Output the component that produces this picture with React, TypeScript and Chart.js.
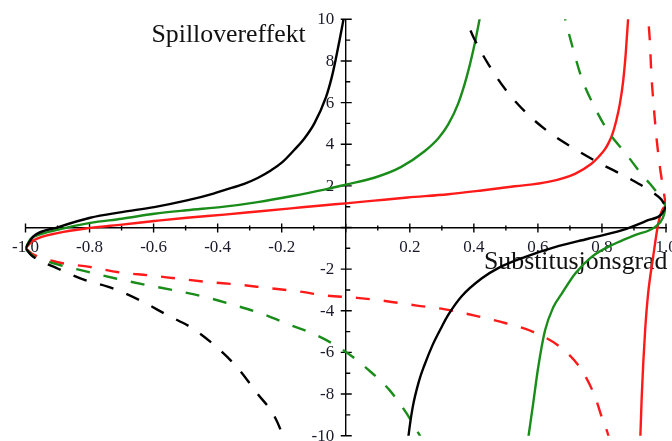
import { useEffect, useRef } from "react";
import { Chart, registerables } from "chart.js";

Chart.register(...registerables);

// x: substitution degree, y: spillover effect
const bsAx = [-1, -0.985, -0.975, -0.897, -0.798, -0.699, -0.598, -0.496, -0.413, -0.379, -0.317, -0.275, -0.234, -0.197, -0.161, -0.128, -0.098, -0.062, -0.044, -0.031, -0.02, -0.01, -0.003, 0.003];
const bsAy = [-1.0, -0.62, -0.42, 0.02, 0.47, 0.74, 0.98, 1.3, 1.63, 1.8, 2.1, 2.38, 2.74, 3.15, 3.72, 4.3, 5.0, 6.25, 7.2, 8.1, 8.95, 9.75, 10.35, 11];
const bsBx = [0.192, 0.196, 0.209, 0.229, 0.245, 0.271, 0.297, 0.32, 0.362, 0.424, 0.476, 0.559, 0.653, 0.757, 0.861, 0.944, 0.985, 1.0];
const bsBy = [-10.6, -10.0, -8.64, -7.36, -6.64, -5.65, -4.85, -4.2, -3.3, -2.45, -1.95, -1.42, -0.94, -0.54, -0.14, 0.35, 0.62, 1.0];

const bdAx = [-1, -0.985, -0.975, -0.904, -0.818, -0.724, -0.641, -0.558, -0.477, -0.405, -0.34, -0.275, -0.225, -0.197, -0.19];
const bdAy = [-1.0, -1.28, -1.42, -1.94, -2.5, -2.94, -3.51, -4.2, -4.86, -5.72, -6.7, -8.0, -9.0, -10.0, -10.4];
const bdBx = [0.355, 0.372, 0.4, 0.447, 0.5, 0.562, 0.635, 0.717, 0.795, 0.877, 0.961, 0.985, 1.0];
const bdBy = [10.7, 10.1, 9.1, 7.8, 6.6, 5.53, 4.57, 3.75, 3.07, 2.42, 1.66, 1.35, 1.0];

const gsAx = [-1, -0.985, -0.97, -0.897, -0.798, -0.699, -0.598, -0.496, -0.379, -0.275, -0.171, -0.067, 0, 0.089, 0.172, 0.245, 0.29, 0.32, 0.351, 0.377, 0.398, 0.419, 0.428];
const gsAy = [-1.0, -0.56, -0.42, -0.1, 0.22, 0.42, 0.66, 0.83, 1.0, 1.22, 1.5, 1.82, 2.06, 2.39, 2.9, 3.65, 4.3, 4.95, 5.95, 7.2, 8.5, 10.1, 10.9];
const gsBx = [0.562, 0.57, 0.585, 0.601, 0.622, 0.648, 0.674, 0.716, 0.767, 0.84, 0.903, 0.965, 0.99, 1.0];
const gsBy = [-11, -10.1, -8.48, -6.71, -4.96, -3.83, -3.19, -2.22, -1.42, -0.78, -0.37, 0.02, 0.45, 1.0];

const gdAx = [-1, -0.985, -0.975, -0.898, -0.805, -0.715, -0.626, -0.532, -0.436, -0.35, -0.26, -0.176, -0.088, -0.005, 0.068, 0.136, 0.188, 0.227, 0.25];
const gdAy = [-1.0, -1.25, -1.38, -1.78, -2.13, -2.46, -2.75, -3.03, -3.35, -3.72, -4.15, -4.67, -5.2, -5.92, -6.8, -7.8, -8.88, -9.88, -10.5];
const gdBx = [0.676, 0.687, 0.71, 0.737, 0.775, 0.82, 0.877, 0.929, 0.95, 0.98, 1.0];
const gdBy = [10.6, 9.9, 8.56, 7.16, 5.84, 4.6, 3.5, 2.46, 2.1, 1.5, 1.0];

const rsAx = [-1, -0.985, -0.975, -0.897, -0.798, -0.699, -0.598, -0.496, -0.379, -0.275, -0.171, -0.067, 0, 0.089, 0.193, 0.32, 0.424, 0.528, 0.632, 0.716, 0.767, 0.79, 0.809, 0.822, 0.834, 0.845, 0.856, 0.866, 0.874, 0.882, 0.888];
const rsAy = [-1.0, -0.75, -0.62, -0.26, -0.02, 0.14, 0.31, 0.47, 0.62, 0.77, 0.92, 1.07, 1.16, 1.29, 1.44, 1.6, 1.78, 1.98, 2.19, 2.58, 3.06, 3.4, 3.75, 4.1, 4.55, 5.15, 5.95, 7.0, 8.3, 10.1, 11.6];
const rsBx = [0.917, 0.92, 0.924, 0.929, 0.935, 0.944, 0.96, 0.976, 0.99, 1.0];
const rsBy = [-11, -10, -8.2, -6.5, -4.9, -3.2, -1.4, 0.2, 0.9, 1.0];

const rdAx = [-1, -0.985, -0.975, -0.896, -0.8, -0.709, -0.612, -0.522, -0.428, -0.338, -0.246, -0.153, -0.06, 0.035, 0.128, 0.222, 0.306, 0.403, 0.5, 0.583, 0.668, 0.731, 0.775, 0.804, 0.82, 0.826];
const rdAy = [-1.0, -1.2, -1.3, -1.68, -1.89, -2.15, -2.3, -2.46, -2.62, -2.74, -2.9, -3.06, -3.27, -3.38, -3.54, -3.75, -3.92, -4.23, -4.6, -5.0, -5.72, -6.72, -8.0, -9.32, -10, -10.5];
const rdBx = [0.941, 0.945, 0.95, 0.954, 0.961, 0.97, 0.981, 0.992, 1.0];
const rdBy = [11, 9.95, 8.85, 7.45, 5.96, 4.36, 2.9, 1.8, 1.0];

const yAxisTitle = "Spillovereffekt";
const xAxisTitle = "Substitusjonsgrad";

const BLACK = "#000000";
const GREEN = "#1a8c1a";
const RED = "#ff1a1a";
const LABEL = "#1a1a2a";
const SERIF = "'Liberation Serif', 'Times New Roman', serif";

const zip = (xs: number[], ys: number[]) => xs.map((x, i) => ({ x, y: ys[i] }));

function series(xs: number[], ys: number[], color: string, dashed: boolean) {
  return {
    data: zip(xs, ys),
    showLine: true,
    borderColor: color,
    borderWidth: 2.4,
    borderDash: dashed ? [14, 14] : [],
    pointRadius: 0,
    pointHoverRadius: 0,
    cubicInterpolationMode: "monotone" as const,
    fill: false,
  };
}

const axesDecor = {
  id: "axesDecor",
  beforeDatasetsDraw(chart: any) {
    const { ctx } = chart;
    const xs = chart.scales.x;
    const ys = chart.scales.y;
    const x0 = xs.getPixelForValue(0);
    const y0 = ys.getPixelForValue(0);
    ctx.save();
    ctx.strokeStyle = "#000";
    ctx.lineWidth = 1.4;
    ctx.beginPath();
    xs.ticks.forEach((t: any) => {
      const p = xs.getPixelForValue(t.value);
      const major = Math.abs(Math.round(t.value * 10)) % 2 === 0;
      if (major) {
        ctx.moveTo(p, y0 - 4);
        ctx.lineTo(p, y0 + 5);
      } else {
        ctx.moveTo(p, y0 - 2);
        ctx.lineTo(p, y0 + 3);
      }
    });
    ys.ticks.forEach((t: any) => {
      const p = ys.getPixelForValue(t.value);
      const major = Math.abs(Math.round(t.value)) % 2 === 0;
      if (major) {
        ctx.moveTo(x0 - 5, p);
        ctx.lineTo(x0 + 6, p);
      } else {
        ctx.moveTo(x0, p);
        ctx.lineTo(x0 + 4.5, p);
      }
    });
    ctx.stroke();

    // y tick labels, right-aligned left of the vertical axis
    ctx.fillStyle = LABEL;
    ctx.font = `17px ${SERIF}`;
    ctx.textAlign = "right";
    ctx.textBaseline = "middle";
    ys.ticks.forEach((t: any) => {
      const n = Math.round(t.value);
      if (n === 0 || n % 2 !== 0) return;
      ctx.fillText(String(n), x0 - 11.5, ys.getPixelForValue(t.value) + 0.5);
    });

    ctx.fillStyle = "#111";
    ctx.font = `25.8px ${SERIF}`;
    ctx.textAlign = "left";
    ctx.textBaseline = "alphabetic";
    ctx.fillText(yAxisTitle, 151.5, 41.5);
    ctx.fillText(xAxisTitle, 484, 269);
    ctx.restore();
  },
};

const zeroPad = (s: any) => {
  s.paddingLeft = 0;
  s.paddingRight = 0;
  s.paddingTop = 0;
  s.paddingBottom = 0;
};

export default function App() {
  const ref = useRef<HTMLCanvasElement | null>(null);
  useEffect(() => {
    if (!ref.current) return;
    const chart = new Chart(ref.current, {
      type: "scatter",
      data: {
        datasets: [
          series(bsAx, bsAy, BLACK, false),
          series(bsBx, bsBy, BLACK, false),
          series(bdAx, bdAy, BLACK, true),
          series(bdBx, bdBy, BLACK, true),
          series(gsAx, gsAy, GREEN, false),
          series(gsBx, gsBy, GREEN, false),
          series(gdAx, gdAy, GREEN, true),
          series(gdBx, gdBy, GREEN, true),
          series(rsAx, rsAy, RED, false),
          series(rsBx, rsBy, RED, false),
          series(rdAx, rdAy, RED, true),
          series(rdBx, rdBy, RED, true),
        ] as any,
      },
      options: {
        animation: false,
        responsive: false,
        maintainAspectRatio: false,
        events: [],
        layout: { padding: { left: 25.5, right: 6, top: 19.3, bottom: 5.3 } },
        plugins: { legend: { display: false }, tooltip: { enabled: false }, title: { display: false } },
        scales: {
          x: {
            type: "linear",
            min: -1,
            max: 1,
            position: { y: 0 } as any,
            grid: { display: false, drawTicks: false },
            border: { display: true, color: "#000", width: 1.4 },
            afterFit: zeroPad,
            ticks: {
              stepSize: 0.1,
              autoSkip: false,
              maxRotation: 0,
              padding: 9.5,
              color: LABEL,
              font: { family: SERIF, size: 17 },
              callback: (v: any) => {
                const n = Math.round(Number(v) * 10);
                if (n === 0 || n % 2 !== 0) return "";
                return (n / 10).toFixed(1);
              },
            },
          },
          y: {
            type: "linear",
            min: -10,
            max: 10,
            position: { x: 0 } as any,
            grid: { display: false, drawTicks: false },
            border: { display: true, color: "#000", width: 1.4 },
            afterFit: zeroPad,
            ticks: {
              display: false,
              stepSize: 1,
              autoSkip: false,
            },
          },
        },
      },
      plugins: [axesDecor],
    });
    return () => chart.destroy();
  }, []);
  return (
    <div style={{ position: "absolute", left: 0, top: 0, width: 672, height: 441, background: "#fff" }}>
      <canvas ref={ref} width={672} height={441} style={{ display: "block" }} />
    </div>
  );
}
